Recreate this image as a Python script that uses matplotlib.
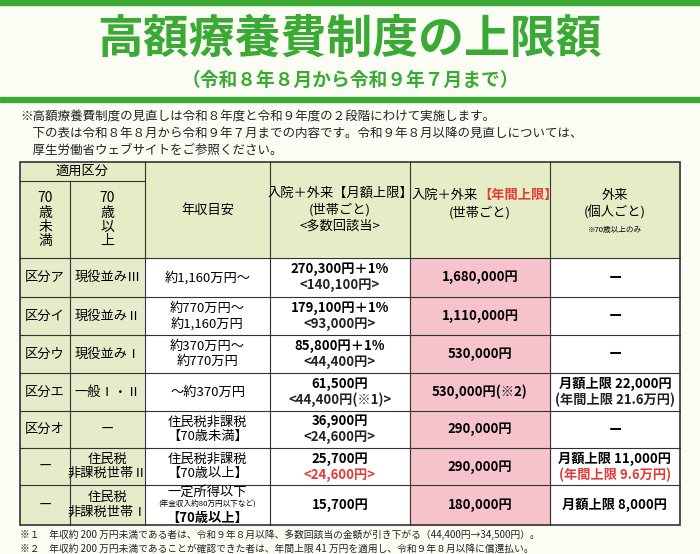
import matplotlib
matplotlib.use("Agg")
import matplotlib.pyplot as plt
from matplotlib.patches import Rectangle

plt.rcParams['font.family'] = ['Noto Sans CJK JP', 'DejaVu Sans']

title = "高額療養費制度の上限額"
subtitle = "（令和８年８月から令和９年７月まで）"
notes = ["※高額療養費制度の見直しは令和８年度と令和９年度の２段階にわけて実施します。",
         "　下の表は令和８年８月から令和９年７月までの内容です。令和９年８月以降の見直しについては、",
         "　厚生労働省ウェブサイトをご参照ください。"]
col_under70 = ["区分ア", "区分イ", "区分ウ", "区分エ", "区分オ", "ー", "ー"]
col_over70 = ["現役並みⅢ", "現役並みⅡ", "現役並みⅠ", "一般Ⅰ・Ⅱ", "ー", "住民税\n非課税世帯Ⅱ", "住民税\n非課税世帯Ⅰ"]
income = ["約1,160万円～", "約770万円～\n約1,160万円", "約370万円～\n約770万円", "～約370万円",
          "住民税非課税\n【70歳未満】", "住民税非課税\n【70歳以上】", "一定所得以下\n(年金収入約80万円以下など)\n【70歳以上】"]
monthly = ["270,300円＋1%\n<140,100円>", "179,100円＋1%\n<93,000円>", "85,800円＋1%\n<44,400円>",
           "61,500円\n<44,400円(※1)>", "36,900円\n<24,600円>", "25,700円\n<24,600円>", "15,700円"]
monthly_red2 = [False, False, False, False, False, True, False]
annual = ["1,680,000円", "1,110,000円", "530,000円", "530,000円(※2)", "290,000円", "290,000円", "180,000円"]
outpatient = ["ー", "ー", "ー", "月額上限 22,000円\n(年間上限 21.6万円)", "ー",
              "月額上限 11,000円\n(年間上限 9.6万円)", "月額上限 8,000円"]
out_red2 = [False, False, False, False, False, True, False]
footnotes = ["※１　年収約 200 万円未満である者は、令和９年８月以降、多数回該当の金額が引き下がる（44,400円→34,500円）。",
             "※２　年収約 200 万円未満であることが確認できた者は、年間上限 41 万円を適用し、令和９年８月以降に償還払い。"]

GREEN = "#3aaa35"
HEAD = "#e5edc6"
LEFT = "#e4ecca"
PINK = "#f6c3cc"
RED = "#e53935"

fig = plt.figure(figsize=(7, 5.54), dpi=100)
fig.patch.set_facecolor("#fbfcf4")
ax = fig.add_axes([0, 0, 1, 1])
ax.set_xlim(0, 700); ax.set_ylim(554, 0); ax.axis("off")

ax.add_patch(Rectangle((0, 0), 700, 5, color=GREEN))
ax.text(350, 40, title, ha="center", va="center", fontsize=33, fontweight="bold", color=GREEN)
ax.text(350, 80, subtitle, ha="center", va="center", fontsize=13.5, fontweight="bold", color=GREEN)
ax.add_patch(Rectangle((0, 97), 700, 5, color=GREEN))
for i, n in enumerate(notes):
    ax.text(20, 116 + i * 17, n, ha="left", va="center", fontsize=9, color="#222")

xs = [20, 70, 145, 270, 410, 550, 680]
ys = [258, 297, 335, 373, 411, 448, 485, 525]
top, sub = 162, 181

ax.add_patch(Rectangle((xs[0], top), xs[-1] - xs[0], ys[0] - top, color=HEAD, zorder=0))
ax.add_patch(Rectangle((xs[0], ys[0]), xs[2] - xs[0], ys[-1] - ys[0], color=LEFT, zorder=0))
ax.add_patch(Rectangle((xs[2], ys[0]), xs[-1] - xs[2], ys[-1] - ys[0], color="white", zorder=0))
ax.add_patch(Rectangle((xs[4], ys[0]), xs[5] - xs[4], ys[-1] - ys[0], color=PINK, zorder=0))

lw = 0.8
ax.add_patch(Rectangle((xs[0], top), xs[-1] - xs[0], ys[-1] - top, fill=False, ec="#333", lw=1.2))
ax.plot([xs[0], xs[2]], [sub, sub], color="#333", lw=lw)
ax.plot([xs[1], xs[1]], [sub, ys[-1]], color="#333", lw=lw)
for x in xs[2:-1]:
    ax.plot([x, x], [top, ys[-1]], color="#333", lw=lw)
for y in ys[:-1]:
    ax.plot([xs[0], xs[-1]], [y, y], color="#333", lw=lw)

fs = 9.5
ax.text((xs[0] + xs[2]) / 2, (top + sub) / 2, "適用区分", ha="center", va="center", fontsize=fs)
ax.text((xs[0] + xs[1]) / 2, (sub + ys[0]) / 2, "70\n歳\n未\n満", ha="center", va="center", fontsize=10, linespacing=1.0)
ax.text((xs[1] + xs[2]) / 2, (sub + ys[0]) / 2, "70\n歳\n以\n上", ha="center", va="center", fontsize=10, linespacing=1.0)
hy = (top + ys[0]) / 2
ax.text((xs[2] + xs[3]) / 2, hy, "年収目安", ha="center", va="center", fontsize=fs)
ax.text((xs[3] + xs[4]) / 2, hy, "入院＋外来【月額上限】\n(世帯ごと)\n<多数回該当>", ha="center", va="center", fontsize=fs, linespacing=1.3)
ax.text((xs[4] + xs[5]) / 2 - 2, hy - 15, "入院＋外来", ha="right", va="center", fontsize=fs)
ax.text((xs[4] + xs[5]) / 2 - 2, hy - 15, "【年間上限】", ha="left", va="center", fontsize=fs, color=RED, fontweight="bold")
ax.text((xs[4] + xs[5]) / 2, hy + 3, "(世帯ごと)", ha="center", va="center", fontsize=fs)
ax.text((xs[5] + xs[6]) / 2, hy - 6, "外来\n(個人ごと)", ha="center", va="center", fontsize=fs, linespacing=1.3)
ax.text((xs[5] + xs[6]) / 2, hy + 20, "※70歳以上のみ", ha="center", va="center", fontsize=5.5)

for i in range(7):
    cy = (ys[i] + ys[i + 1]) / 2
    ax.text((xs[0] + xs[1]) / 2, cy, col_under70[i], ha="center", va="center", fontsize=fs)
    ax.text((xs[1] + xs[2]) / 2, cy, col_over70[i], ha="center", va="center", fontsize=fs, linespacing=1.15)
    if i == 6:
        l = income[i].split("\n")
        ax.text((xs[2] + xs[3]) / 2, cy - 13, l[0], ha="center", va="center", fontsize=fs)
        ax.text((xs[2] + xs[3]) / 2, cy, l[1], ha="center", va="center", fontsize=5.5)
        ax.text((xs[2] + xs[3]) / 2, cy + 13, l[2], ha="center", va="center", fontsize=fs, fontweight="bold")
    else:
        ax.text((xs[2] + xs[3]) / 2, cy, income[i], ha="center", va="center", fontsize=fs, linespacing=1.15)
    mx = (xs[3] + xs[4]) / 2
    ml = monthly[i].split("\n")
    if len(ml) == 1:
        ax.text(mx, cy, ml[0], ha="center", va="center", fontsize=fs, fontweight="bold")
    else:
        ax.text(mx, cy - 8, ml[0], ha="center", va="center", fontsize=fs, fontweight="bold")
        ax.text(mx, cy + 8, ml[1], ha="center", va="center", fontsize=fs, fontweight="bold",
                color=RED if monthly_red2[i] else "#222")
    ax.text((xs[4] + xs[5]) / 2, cy, annual[i], ha="center", va="center", fontsize=fs, fontweight="bold")
    ox = (xs[5] + xs[6]) / 2
    ol = outpatient[i].split("\n")
    if len(ol) == 1:
        ax.text(ox, cy, ol[0], ha="center", va="center", fontsize=fs, fontweight="bold")
    else:
        ax.text(ox, cy - 8, ol[0], ha="center", va="center", fontsize=fs, fontweight="bold")
        ax.text(ox, cy + 8, ol[1], ha="center", va="center", fontsize=fs, fontweight="bold",
                color=RED if out_red2[i] else "#222")

for i, f in enumerate(footnotes):
    ax.text(20, 535 + i * 14, f, ha="left", va="center", fontsize=7, color="#222")

fig.savefig("out.png", dpi=100, facecolor=fig.get_facecolor())
